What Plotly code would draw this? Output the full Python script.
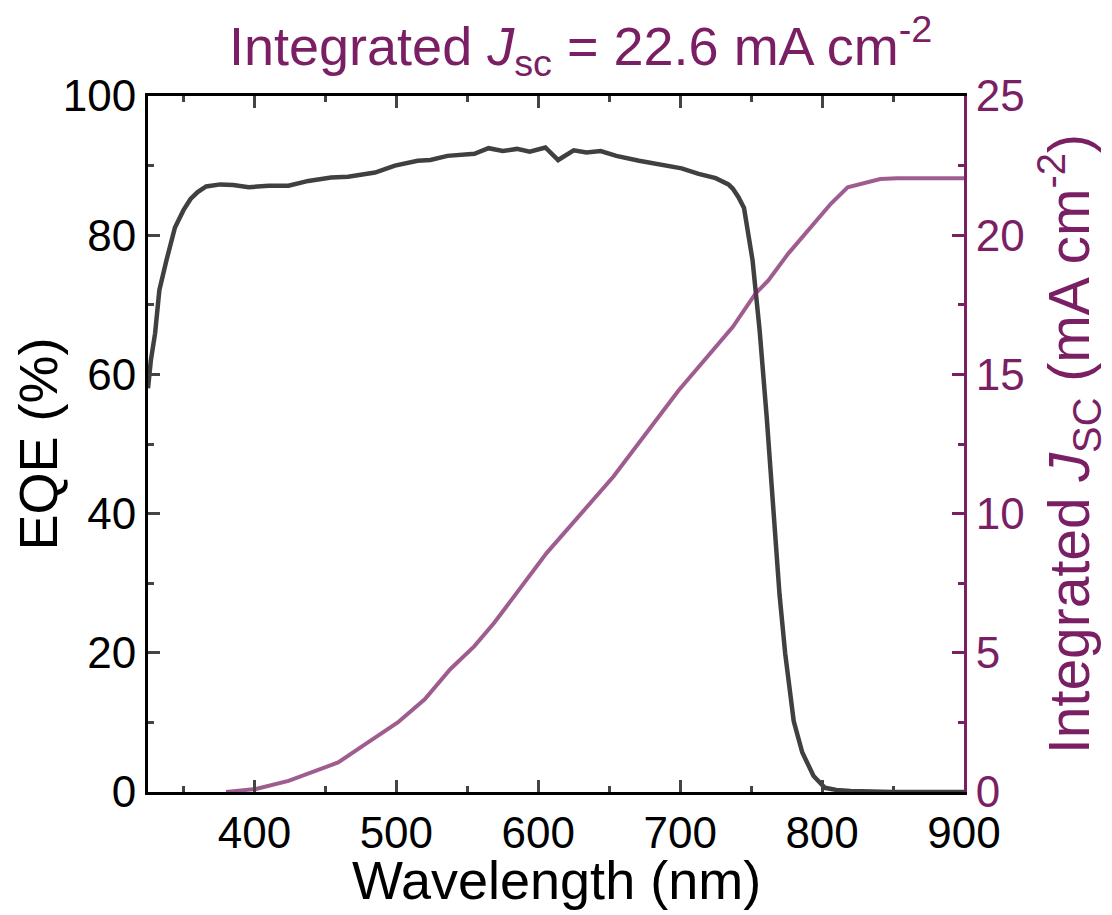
import plotly.graph_objects as go

# EQE data (wavelength nm, EQE %)
eqe_wl = [325, 327, 330, 333, 338, 344, 350, 355, 360, 366, 376, 385, 396, 410, 424, 438,
          454, 466, 485, 499, 515, 524, 536, 545, 555, 565, 575, 585, 594, 605, 614, 625,
          634, 644, 655, 671, 685, 701, 713, 725, 734, 737, 741, 745, 751, 756, 761, 766,
          770, 774, 780, 786, 794, 802, 810, 820, 830, 850, 870, 900]
eqe_val = [58.0, 62.0, 65.9, 72.1, 76.4, 81.1, 83.6, 85.2, 86.2, 87.0, 87.3, 87.2, 86.9, 87.1, 87.1, 87.8,
           88.3, 88.4, 89.0, 90.0, 90.7, 90.8, 91.4, 91.6, 91.7, 92.5, 92.1, 92.4, 92.0, 92.6, 90.8, 92.2,
           91.9, 92.1, 91.4, 90.7, 90.2, 89.6, 88.8, 88.2, 87.3, 86.7, 85.5, 83.9, 76.4, 66.3, 53.8, 39.7,
           28.4, 19.9, 10.2, 5.7, 2.3, 0.6, 0.3, 0.15, 0.05, 0.0, 0.0, 0.0]

# Integrated Jsc data (wavelength nm, mA cm^-2)
jsc_wl = [380, 401, 424, 443, 459, 480, 501, 520, 538, 555, 569, 606, 653, 699, 737, 753,
          762, 776, 792, 806, 818, 830, 841, 853, 870, 900]
jsc_val = [0.0, 0.11, 0.40, 0.76, 1.06, 1.78, 2.50, 3.33, 4.41, 5.24, 6.08, 8.59, 11.33, 14.43, 16.70, 17.9,
           18.37, 19.33, 20.28, 21.12, 21.72, 21.89, 22.02, 22.05, 22.05, 22.05]

x_ticks = [400, 500, 600, 700, 800, 900]
y_ticks = [0, 20, 40, 60, 80, 100]
y2_ticks = [0, 5, 10, 15, 20, 25]

PURPLE = "#7a1f64"
FONT = "Liberation Sans, Arial, sans-serif"
TICK_SIZE = 44
TITLE_SIZE = 54

fig = go.Figure()
fig.add_trace(go.Scatter(x=eqe_wl, y=eqe_val, mode="lines",
                         line=dict(color="#404040", width=4.5), yaxis="y", showlegend=False))
fig.add_trace(go.Scatter(x=jsc_wl, y=jsc_val, mode="lines",
                         line=dict(color="rgba(122,31,100,0.72)", width=4), yaxis="y2", showlegend=False))

fig.update_layout(
    width=1112, height=915,
    margin=dict(l=140, r=156, t=88, b=131),
    paper_bgcolor="white", plot_bgcolor="white",
    font=dict(family=FONT, size=TICK_SIZE, color="black"),
    xaxis=dict(range=[325, 900], tickvals=x_ticks, ticks="inside", ticklen=12, tickwidth=3,
               showline=True, linecolor="black", linewidth=3, mirror="ticks",
               showgrid=False, zeroline=False, automargin=False,
               minor=dict(ticks="inside", ticklen=6, tickwidth=3, dtick=50, tick0=350, showgrid=False),
               tickfont=dict(size=TICK_SIZE)),
    yaxis=dict(range=[0, 100], tickvals=y_ticks, ticks="inside", ticklen=12, tickwidth=3,
               showline=True, linecolor="black", linewidth=3,
               showgrid=False, zeroline=False, automargin=False,
               minor=dict(ticks="inside", ticklen=6, tickwidth=3, dtick=10, showgrid=False),
               title=dict(text="EQE (%)", font=dict(size=TITLE_SIZE), standoff=10),
               tickfont=dict(size=TICK_SIZE)),
    yaxis2=dict(range=[0, 25], tickvals=y2_ticks, overlaying="y", side="right",
                ticks="inside", ticklen=12, tickwidth=3, tickcolor=PURPLE,
                showline=True, linecolor=PURPLE, linewidth=3,
                showgrid=False, zeroline=False, automargin=False,
                minor=dict(ticks="inside", ticklen=6, tickwidth=3, dtick=2.5, tickcolor=PURPLE, showgrid=False),
                title=dict(text="Integrated <i>J</i><sub>SC</sub> (mA cm<sup>-2</sup>)",
                           font=dict(size=57, color=PURPLE), standoff=26),
                tickfont=dict(size=TICK_SIZE, color=PURPLE)),
)

# x-axis title placed as an annotation so it can sit closer to the tick labels
fig.add_annotation(text="Wavelength (nm)", xref="paper", yref="paper", x=0.5, y=0.0,
                   yanchor="middle", yshift=-88, showarrow=False,
                   font=dict(family=FONT, size=TITLE_SIZE, color="black"))

fig.add_annotation(text="Integrated <i>J</i><sub>sc</sub> = 22.6 mA cm<sup>-2</sup>",
                   xref="paper", yref="paper", x=0.53, y=1.0, yanchor="middle", yshift=50,
                   showarrow=False, font=dict(family=FONT, size=TITLE_SIZE, color=PURPLE))

fig.write_html("out.html")
